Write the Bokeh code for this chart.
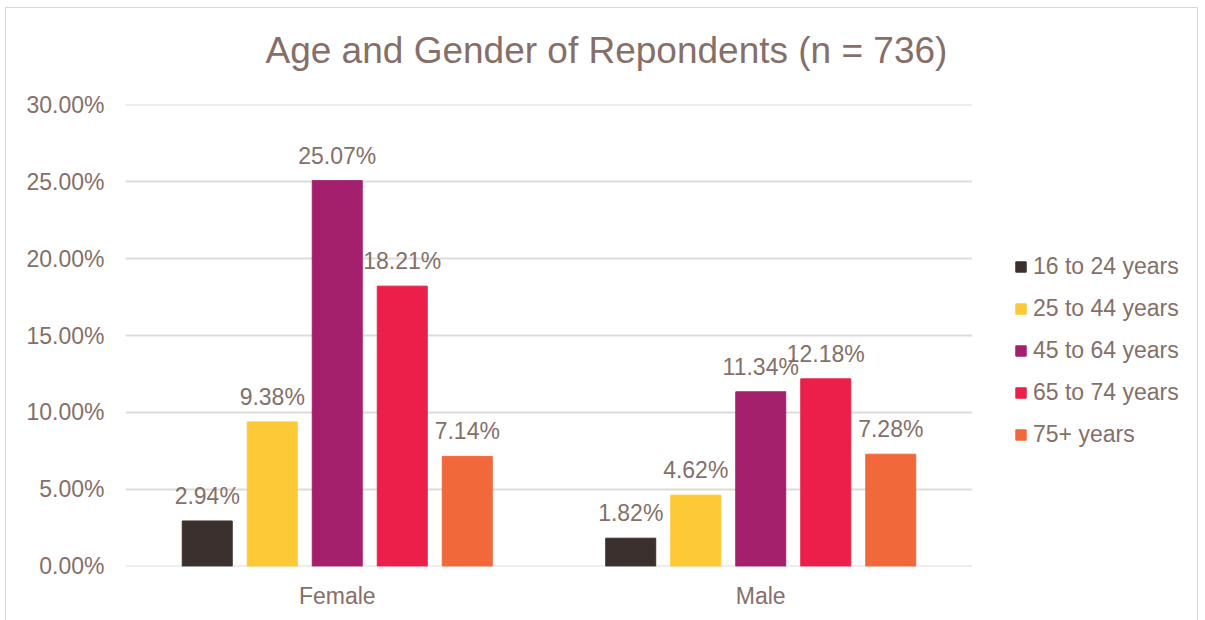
import numpy as np
from bokeh.plotting import figure
from bokeh.models import (ColumnDataSource, Range1d, NumeralTickFormatter, Legend,
                          LegendItem, LabelSet, FactorRange, Title)
from bokeh.layouts import row
from bokeh.core.properties import value
from bokeh.transform import dodge
from bokeh.embed import file_html
from bokeh.resources import INLINE

genders = ["Female", "Male"]
age_groups = ["16 to 24 years", "25 to 44 years", "45 to 64 years", "65 to 74 years", "75+ years"]
values = {
    "16 to 24 years": [0.0294, 0.0182],
    "25 to 44 years": [0.0938, 0.0462],
    "45 to 64 years": [0.2507, 0.1134],
    "65 to 74 years": [0.1821, 0.1218],
    "75+ years": [0.0714, 0.0728],
}
colors = ["#3b302d", "#fec936", "#a4206d", "#ec1f4a", "#f1683a"]
y_ticks = [0, 0.05, 0.10, 0.15, 0.20, 0.25, 0.30]
title_text = "Age and Gender of Repondents (n = 736)"

TEXT = "#856f68"
FONT = "Liberation Sans"

W, H, LW = 966, 612, 225
p = figure(x_range=FactorRange(*genders, range_padding=0), y_range=Range1d(-0.0002, 0.3002),
           width=W, height=H, output_backend="svg", toolbar_location=None, title=None,
           min_border_left=119, min_border_right=0, min_border_top=96, min_border_bottom=54)

# spacer between frame and title, then the title itself
p.add_layout(Title(text=" ", text_font_size="1px", standoff=31), "above")
p.add_layout(Title(text=title_text, text_font=FONT, text_font_size="37px",
                   text_font_style="normal", text_color=TEXT, align="left",
                   offset=140, standoff=0), "above")

data = {"gender": genders}
for g in age_groups:
    data[g] = values[g]
    data[g + "_lbl"] = ["%.2f%%" % (v * 100) for v in values[g]]
src = ColumnDataSource(data)

offsets = [-0.307, -0.1535, 0.0, 0.1535, 0.307]
bw = 0.118
for g, c, off in zip(age_groups, colors, offsets):
    p.vbar(x=dodge("gender", off, range=p.x_range), top=g, width=bw, source=src,
           fill_color=c, line_color=c, line_width=1)
    lbl = LabelSet(x=dodge("gender", off, range=p.x_range), y=g, text=g + "_lbl", source=src,
                   text_align="center", text_baseline="alphabetic", y_offset=17,
                   text_font=value(FONT), text_font_size=value("23px"), text_color=TEXT)
    p.add_layout(lbl)

p.yaxis.ticker = y_ticks
p.yaxis.formatter = NumeralTickFormatter(format="0.00%")
p.yaxis.axis_line_color = None
p.yaxis.major_tick_line_color = None
p.yaxis.minor_tick_line_color = None
p.yaxis.major_tick_out = 0
p.yaxis.major_label_standoff = 21
p.yaxis.major_label_text_font = FONT
p.yaxis.major_label_text_font_size = "23px"
p.yaxis.major_label_text_color = TEXT

p.xaxis.axis_line_color = None
p.xaxis.major_tick_line_color = None
p.xaxis.minor_tick_line_color = None
p.xaxis.major_tick_out = 0
p.xaxis.major_label_standoff = 16
p.xaxis.major_label_text_font = FONT
p.xaxis.major_label_text_font_size = "23px"
p.xaxis.major_label_text_color = TEXT

p.xgrid.grid_line_color = None
p.ygrid.grid_line_color = "#dedbd9"
p.ygrid.grid_line_width = 2
p.outline_line_color = None

# legend panel (legend-only renderers carry no visible data)
pl = figure(width=LW, height=H, x_range=Range1d(0, 1), y_range=Range1d(0, 1),
            x_axis_type=None, y_axis_type=None, output_backend="svg", toolbar_location=None,
            min_border=0)
pl.grid.grid_line_color = None
pl.outline_line_color = None
items = []
for g, c in zip(age_groups, colors):
    r = pl.vbar(x=np.array([np.nan]), top=np.array([np.nan]), width=0.1,
                fill_color=c, line_color=c)
    items.append(LegendItem(label=g, renderers=[r]))
legend = Legend(items=items, location=(42, 118), orientation="vertical",
                glyph_width=13, glyph_height=13, label_standoff=6, spacing=15,
                padding=0, margin=0, border_line_color=None, background_fill_alpha=0,
                label_text_font=FONT, label_text_font_size="23px", label_text_color=TEXT)
pl.add_layout(legend, "center")

layout = row(p, pl, spacing=0)
layout.styles = {"margin-left": "6px", "margin-top": "8px", "outline": "1px solid #dcd8d5"}

open("out.html", "w").write(file_html(layout, INLINE))
